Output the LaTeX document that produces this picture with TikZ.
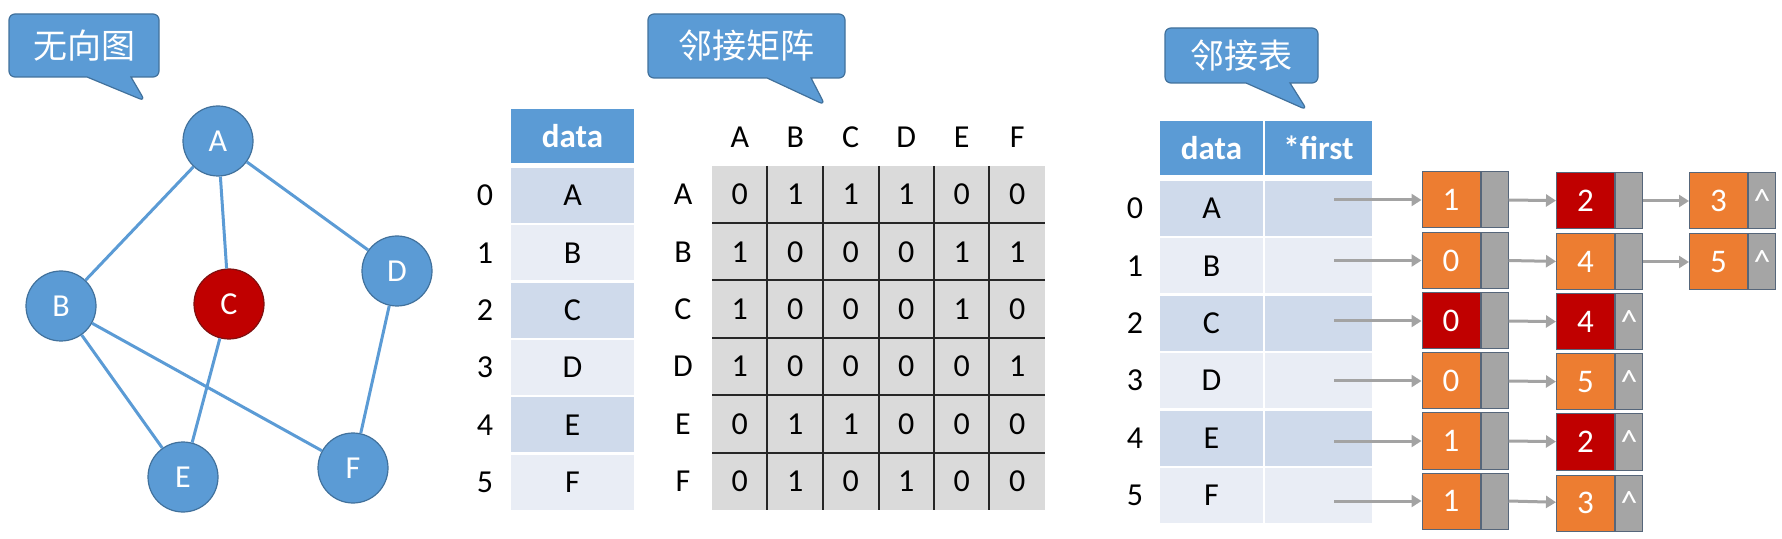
\documentclass[tikz,border=0pt]{standalone}
\usepackage{fontspec}
\setmainfont{Carlito}
\newfontfamily\cjk{Noto Sans CJK SC}
\usetikzlibrary{positioning,arrows.meta,shapes.callouts}

\definecolor{vblue}{HTML}{5B9BD5}
\definecolor{vblueline}{HTML}{41719C}
\definecolor{vred}{HTML}{C00000}
\definecolor{vredline}{HTML}{7F1010}
\definecolor{lorg}{HTML}{ED7D31}
\definecolor{lgray}{HTML}{A5A5A5}
\definecolor{lline}{HTML}{56667A}
\definecolor{matgray}{HTML}{DADADA}
\definecolor{rowdark}{HTML}{CFDAEB}
\definecolor{rowlight}{HTML}{E9EDF5}
\definecolor{arrgray}{HTML}{A3A3A3}

% one list element: data field + pointer field
\newcommand{\lnode}[6]{%
  \node[ldata, fill=#5] (#1) at (#2,#3) {#4};
  \node[lptr, right=0pt of #1] (#1p) {#6};}

\begin{document}
\begin{tikzpicture}[
    x=0.5pt, y=-0.5pt,
    font=\fontsize{16}{19}\selectfont,
    bubble/.style={rectangle callout, fill=vblue, draw=vblueline, line width=0.6pt,
                   rounded corners=3pt, text=white, inner sep=0pt,
                   font=\cjk\fontsize{17}{20}\selectfont, callout pointer width=22pt},
    vtx/.style={circle, fill=vblue, draw=vblueline, line width=0.6pt,
                minimum size=35pt, inner sep=0pt, text=white},
    edge/.style={vblue, line width=1.5pt},
    head/.style={fill=vblue, text=white, inner sep=0pt, minimum height=27pt,
                 font=\bfseries\fontsize{16.5}{19}\selectfont},
    cell/.style={inner sep=0pt, minimum height=27.5pt},
    grid/.style={black!85, line width=0.8pt},
    ldata/.style={draw=lline, line width=0.5pt, minimum width=29pt, minimum height=28pt,
                  inner sep=0pt, text=white, font=\fontsize{16.5}{19}\selectfont},
    lptr/.style={draw=lline, fill=lgray, line width=0.5pt, minimum width=13.5pt,
                 minimum height=28pt, inner sep=0pt, text=white,
                 font=\fontsize{17}{19}\selectfont},
    link/.style={-{Triangle[length=5pt,width=6pt]}, arrgray, line width=1.5pt},
  ]
    \useasboundingbox (0,0) rectangle (1782,539);

    % undirected graph
    \node[bubble, minimum width=75pt, minimum height=31.5pt,
          callout absolute pointer={(145,101)}] (tgraph) at (84,45.5) {无向图};
    \node[vtx] (A) at (218,141) {A};
    \node[vtx] (B) at (61,306) {B};
    \node[vtx, fill=vred, draw=vredline] (C) at (229,304) {C};
    \node[vtx] (D) at (397,271) {D};
    \node[vtx] (E) at (183,477) {E};
    \node[vtx] (F) at (353,468) {F};
    \draw[edge] (A) -- (B);
    \draw[edge] (A) -- (C);
    \draw[edge] (A) -- (D);
    \draw[edge] (B) -- (E);
    \draw[edge] (B) -- (F);
    \draw[edge] (C) -- (E);
    \draw[edge] (D) -- (F);

    % adjacency matrix
    \node[bubble, minimum width=98.5pt, minimum height=32pt,
          callout absolute pointer={(825,105)}] (tmat) at (746.5,46) {邻接矩阵};
    \node[head, minimum width=61.5pt] (dhead) at (572.5,136) {data};
    \foreach \v/\c [count=\i from 0] in {A/rowdark,B/rowlight,C/rowdark,D/rowlight,E/rowdark,F/rowlight} {
      \node[cell, fill=\c, minimum width=61.5pt] (d\i) at (572.5,195.7+57.3*\i) {\v};
      \node (ix\i) at (485,195.7+57.3*\i) {\i};
    }
    \fill[matgray] (712,166) rectangle (1045,510);
    \foreach \c [count=\j from 0] in {A,B,C,D,E,F}
      \node (ch\j) at (739.75+55.5*\j,137) {\c};
    \foreach \x in {767,823,879,934,989}
      \draw[grid] (\x,166) -- (\x,510);
    \foreach \y in {223,280,338,395,453}
      \draw[grid] (712,\y) -- (1045,\y);
    \foreach \r/\vals [count=\i from 0] in {A/{0,1,1,1,0,0},B/{1,0,0,0,1,1},C/{1,0,0,0,1,0},
                                           D/{1,0,0,0,0,1},E/{0,1,1,0,0,0},F/{0,1,0,1,0,0}} {
      \node (rh\i) at (683,194.7+57.33*\i) {\r};
      \foreach \v [count=\j from 0] in \vals
        \node (m\i\j) at (739.75+55.5*\j,194.7+57.33*\i) {\v};
    }

    % adjacency list
    \node[bubble, minimum width=76.5pt, minimum height=27.5pt,
          callout absolute pointer={(1307,110)}] (tlist) at (1241.5,55.5) {邻接表};
    \node[head, minimum width=51.5pt] (ahd) at (1211.5,148) {data};
    \node[head, minimum width=53.5pt] (ahf) at (1318.5,148) {*first};
    \foreach \v/\c [count=\i from 0] in {A/rowdark,B/rowlight,C/rowdark,D/rowlight,E/rowdark,F/rowlight} {
      \node[cell, fill=\c, minimum width=51.5pt] (ad\i) at (1211.5,208.5+57.4*\i) {\v};
      \node[cell, fill=\c, minimum width=53.5pt] (af\i) at (1318.5,208.5+57.4*\i) {};
      \node (ax\i) at (1135,208.5+57.4*\i) {\i};
    }

    \lnode{n01}{1451}{200}{1}{lorg}{}
    \lnode{n02}{1585.5}{201}{2}{vred}{}
    \lnode{n03}{1718.5}{201}{3}{lorg}{\textasciicircum}
    \lnode{n11}{1451}{260.5}{0}{lorg}{}
    \lnode{n12}{1585.5}{262}{4}{lorg}{}
    \lnode{n13}{1718.5}{262}{5}{lorg}{\textasciicircum}
    \lnode{n21}{1451}{321}{0}{vred}{}
    \lnode{n22}{1585.5}{322}{4}{vred}{\textasciicircum}
    \lnode{n31}{1451}{381}{0}{lorg}{}
    \lnode{n32}{1585.5}{382}{5}{lorg}{\textasciicircum}
    \lnode{n41}{1451}{441}{1}{lorg}{}
    \lnode{n42}{1585.5}{442}{2}{vred}{\textasciicircum}
    \lnode{n51}{1451}{501}{1}{lorg}{}
    \lnode{n52}{1585.5}{503}{3}{lorg}{\textasciicircum}

    \foreach \k/\yy in {0/200,1/260.5,2/321,3/381,4/441,5/501} {
      \coordinate (s\k) at (1334,\yy);
      \draw[link] (s\k) -- (n\k1);
    }
    \draw[link] (n01p.east) -- (n02);
    \draw[link] (n02p.east) -- (n03);
    \draw[link] (n11p.east) -- (n12);
    \draw[link] (n12p.east) -- (n13);
    \draw[link] (n21p.east) -- (n22);
    \draw[link] (n31p.east) -- (n32);
    \draw[link] (n41p.east) -- (n42);
    \draw[link] (n51p.east) -- (n52);
  \end{tikzpicture}
\end{document}
